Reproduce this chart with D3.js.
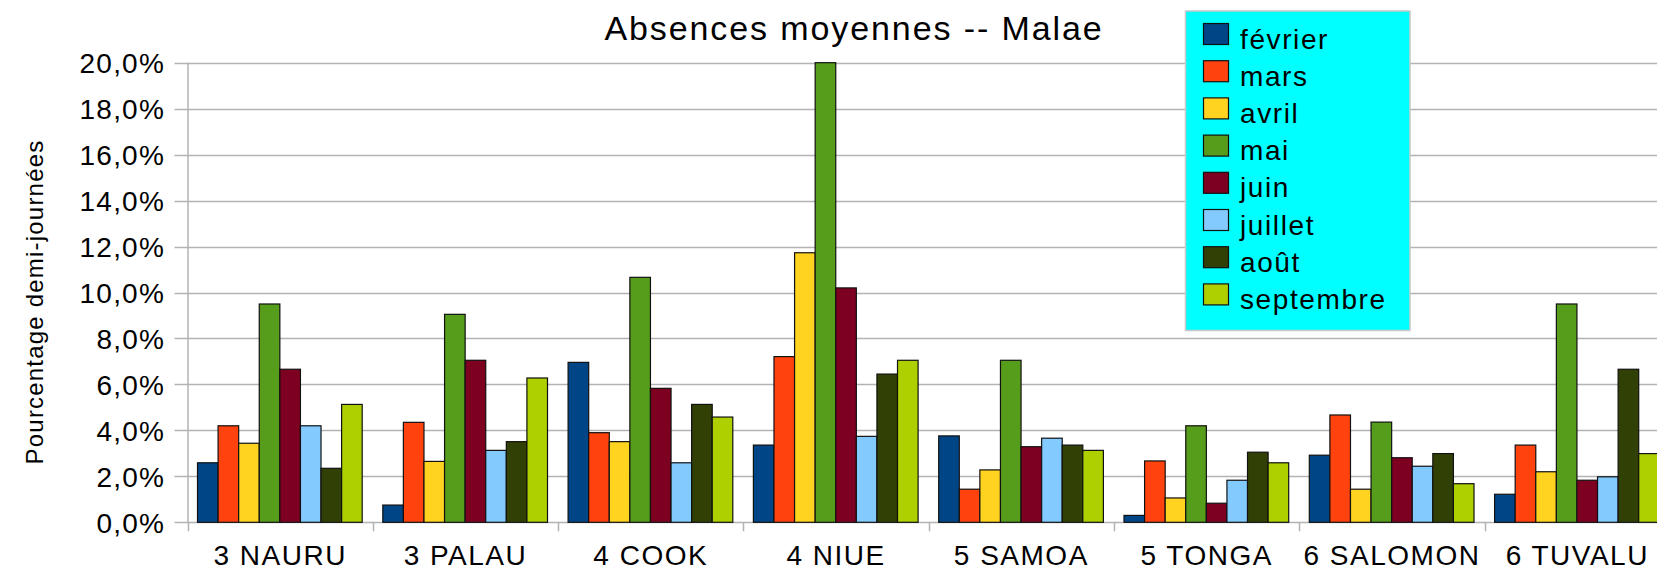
<!DOCTYPE html>
<html>
<head>
<meta charset="utf-8">
<script src="https://cdn.jsdelivr.net/npm/d3@7"></script>
<style>
  html, body { margin: 0; padding: 0; background: #ffffff; overflow: hidden; }
  text { font-family: "Liberation Sans", Arial, sans-serif; fill: #000; }
</style>
</head>
<body>
<svg id="chart" width="1657" height="571"></svg>
<script>
const categories = ["3 NAURU", "3 PALAU", "4 COOK", "4 NIUE", "5 SAMOA", "5 TONGA", "6 SALOMON", "6 TUVALU"];
const months = ["février", "mars", "avril", "mai", "juin", "juillet", "août", "septembre"];
const colors = ["#004586", "#ff420e", "#ffd320", "#579d1c", "#7e0021", "#83caff", "#314004", "#aecf00"];

const fevrier   = [0.0259, 0.0075, 0.0696, 0.0336, 0.0376, 0.0030, 0.0292, 0.0122];
const mars      = [0.0420, 0.0435, 0.0390, 0.0721, 0.0144, 0.0267, 0.0467, 0.0336];
const avril     = [0.0344, 0.0265, 0.0351, 0.1173, 0.0228, 0.0106, 0.0144, 0.0220];
const mai       = [0.0950, 0.0905, 0.1066, 0.2000, 0.0705, 0.0420, 0.0436, 0.0950];
const juin      = [0.0666, 0.0705, 0.0583, 0.1020, 0.0329, 0.0083, 0.0281, 0.0183];
const juillet   = [0.0420, 0.0313, 0.0259, 0.0374, 0.0366, 0.0183, 0.0244, 0.0198];
const aout      = [0.0235, 0.0351, 0.0513, 0.0645, 0.0336, 0.0305, 0.0299, 0.0666];
const septembre = [0.0513, 0.0628, 0.0458, 0.0705, 0.0313, 0.0259, 0.0168, 0.0299];
const series = [fevrier, mars, avril, mai, juin, juillet, aout, septembre];

const yTicks = [0, 0.02, 0.04, 0.06, 0.08, 0.10, 0.12, 0.14, 0.16, 0.18, 0.20];
const title = "Absences moyennes -- Malae";
const yTitle = "Pourcentage demi-journées";

const frFormat = d3.formatLocale({decimal: ",", thousands: " ", grouping: [3], currency: ["", " €"], percent: "%"}).format(".1%");

const svg = d3.select("#chart");
const left = 187.5, catW = 185.3;
const x = d3.scaleBand().domain(categories).range([left, left + catW * categories.length]).padding(0);
const xm = d3.scaleBand().domain(months).range([10, catW - 10.6]).padding(0);
const y = d3.scaleLinear().domain([0, 0.2]).range([522.3, 62.7]);

const gridColor = "#b3b3b3";

// gridlines
svg.append("g").selectAll("line").data(yTicks).join("line")
  .attr("x1", left - 13).attr("x2", 1657)
  .attr("y1", d => Math.round(y(d)) + 0.5).attr("y2", d => Math.round(y(d)) + 0.5)
  .attr("stroke", gridColor).attr("stroke-width", 1.5);

// y axis line
svg.append("line").attr("x1", left + 0.5).attr("x2", left + 0.5)
  .attr("y1", y(0.2)).attr("y2", y(0))
  .attr("stroke", gridColor).attr("stroke-width", 1.5);

// x axis ticks at category boundaries
const bounds = categories.map(c => x(c)).concat([x.range()[1]]);
svg.append("g").selectAll("line").data(bounds).join("line")
  .attr("x1", d => Math.round(d) + 0.5).attr("x2", d => Math.round(d) + 0.5)
  .attr("y1", y(0)).attr("y2", y(0) + 9)
  .attr("stroke", gridColor).attr("stroke-width", 1.5);

// y tick labels
svg.append("g").selectAll("text").data(yTicks).join("text")
  .attr("x", 165).attr("y", d => y(d) + 10.5)
  .attr("text-anchor", "end")
  .style("font-size", "28px").style("letter-spacing", "1.2px")
  .text(d => frFormat(d));

// x labels
svg.append("g").selectAll("text").data(categories).join("text")
  .attr("x", d => x(d) + catW / 2).attr("y", 565)
  .attr("text-anchor", "middle")
  .style("font-size", "28px").style("letter-spacing", "1.5px")
  .text(d => d);

// bars
const bars = svg.append("g");
series.forEach((vals, si) => {
  bars.append("g").selectAll("rect").data(vals).join("rect")
    .attr("x", (d, i) => x(categories[i]) + xm(months[si]))
    .attr("y", d => y(d))
    .attr("width", xm.bandwidth())
    .attr("height", d => y(0) - y(d))
    .attr("fill", colors[si])
    .attr("stroke", "#111")
    .attr("stroke-width", 1.2);
});

// title
svg.append("text").attr("x", 854).attr("y", 40)
  .attr("text-anchor", "middle")
  .style("font-size", "34px").style("letter-spacing", "1.9px")
  .text(title);

// y axis title
svg.append("text")
  .attr("transform", "translate(43,302) rotate(-90)")
  .attr("text-anchor", "middle")
  .style("font-size", "24px").style("letter-spacing", "1.2px")
  .text(yTitle);

// legend
const lg = svg.append("g");
lg.append("rect").attr("x", 1185.5).attr("y", 11).attr("width", 224.5).attr("height", 319.5)
  .attr("fill", "#00ffff").attr("stroke", "#c8c8c8").attr("stroke-width", 1.5);
const items = lg.selectAll("g.item").data(months).join("g").attr("class", "item")
  .attr("transform", (d, i) => `translate(0,${i * 37.2})`);
items.append("rect").attr("x", 1203.5).attr("y", 23.5).attr("width", 25).attr("height", 21)
  .attr("fill", (d, i) => colors[i]).attr("stroke", "#111").attr("stroke-width", 1.2);
items.append("text").attr("x", 1240).attr("y", 48.5)
  .style("font-size", "28px").style("letter-spacing", "1.6px")
  .text(d => d);
</script>
</body>
</html>
